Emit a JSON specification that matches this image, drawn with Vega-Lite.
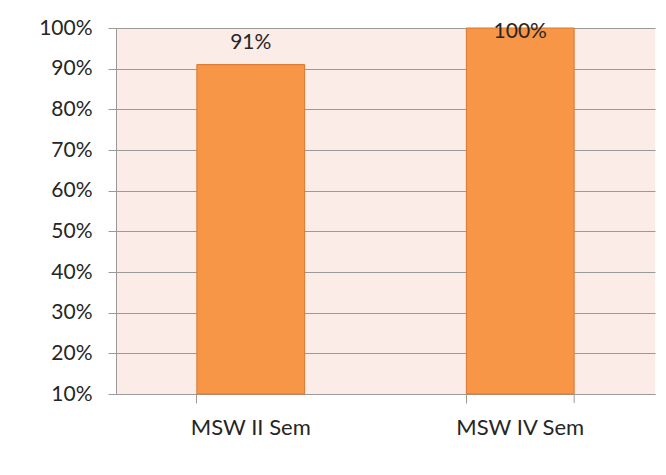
{
  "$schema": "https://vega.github.io/schema/vega-lite/v6.json",
  "width": 539,
  "height": 366,
  "autosize": {"type": "none"},
  "padding": {"left": 116, "top": 28, "right": 11, "bottom": 81},
  "background": "white",
  "config": {
    "view": {"stroke": null, "fill": "#FCECE7"},
    "font": "Lato"
  },
  "data": {"values": [
    {"semester": "MSW II Sem", "value": 0.91},
    {"semester": "MSW IV Sem", "value": 1.0}
  ]},
  "encoding": {
    "x": {
      "field": "semester", "type": "nominal", "sort": null,
      "scale": {"paddingInner": 0.6, "paddingOuter": 0.3},
      "axis": {
        "title": null, "labelAngle": 0, "bandPosition": 0,
        "tickSize": 9, "tickColor": "#9A9A9A", "domainColor": "#9A9A9A",
        "labelFont": "Lato", "labelFontSize": 22, "labelColor": "#262626",
        "labelPadding": 14, "grid": false
      }
    },
    "y": {
      "field": "value", "type": "quantitative",
      "scale": {"domain": [0.1, 1.0], "nice": false, "zero": false},
      "axis": {
        "title": null, "format": ".0%",
        "values": [0.1, 0.2, 0.3, 0.4, 0.5, 0.6, 0.7, 0.8, 0.9, 1.0],
        "tickSize": 8, "tickColor": "#9A9A9A", "domainColor": "#9A9A9A",
        "grid": true, "gridColor": "#9A9A9A", "gridOpacity": 1,
        "labelFont": "Lato", "labelFontSize": 21, "labelColor": "#262626",
        "labelPadding": 16
      }
    }
  },
  "layer": [
    {
      "mark": {"type": "bar", "color": "#F79646", "stroke": "#D9772F", "strokeWidth": 1},
      "encoding": {"y2": {"datum": 0.1}}
    },
    {
      "transform": [{"filter": "datum.value < 1"}],
      "mark": {"type": "text", "font": "Lato", "fontSize": 21, "color": "#262626", "baseline": "alphabetic", "dy": -16},
      "encoding": {"text": {"field": "value", "type": "quantitative", "format": ".0%"}}
    },
    {
      "transform": [{"filter": "datum.value >= 1"}],
      "mark": {"type": "text", "font": "Lato", "fontSize": 21, "color": "#262626", "baseline": "alphabetic", "dy": 10},
      "encoding": {"text": {"field": "value", "type": "quantitative", "format": ".0%"}}
    },
    {
      "transform": [{"filter": "datum.semester == 'MSW IV Sem'"}],
      "mark": {"type": "rule", "color": "#9A9A9A", "strokeWidth": 1, "y2Offset": 9},
      "encoding": {
        "x": {"field": "semester", "type": "nominal", "sort": null, "bandPosition": 1},
        "y": {"datum": 0.1, "type": "quantitative"},
        "y2": {"datum": 0.1}
      }
    }
  ]
}
